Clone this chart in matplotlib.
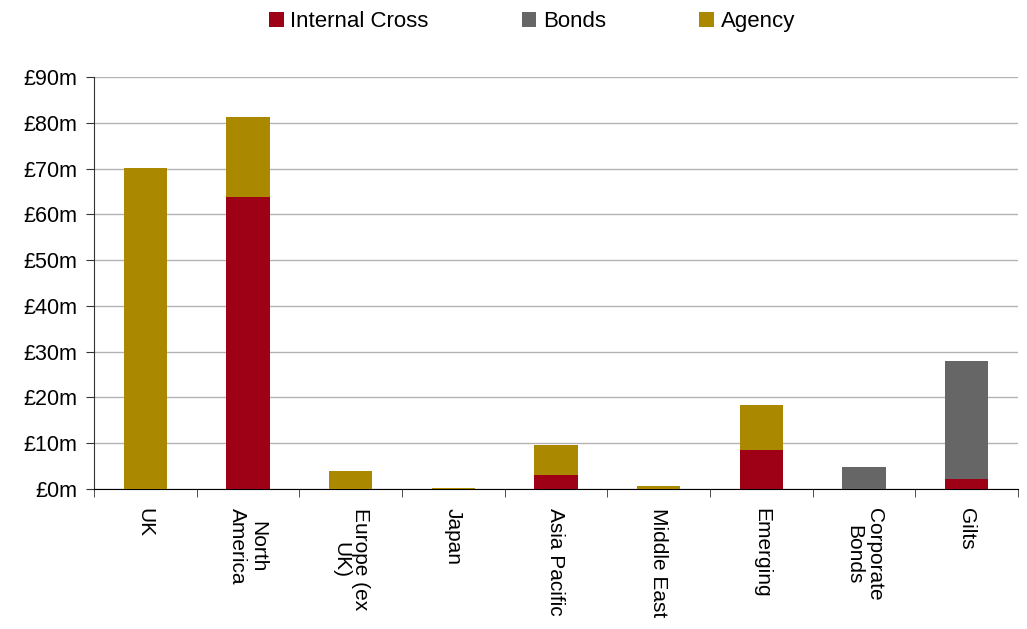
import numpy as np
import matplotlib.pyplot as plt
from matplotlib.ticker import FuncFormatter, FixedLocator

plt.rcParams['font.family'] = ['Liberation Sans', 'DejaVu Sans']

# Data (in £m)
categories = ['UK', 'North\nAmerica', 'Europe (ex\nUK)', 'Japan', 'Asia Pacific',
              'Middle East', 'Emerging', 'Corporate\nBonds', 'Gilts']
internal_cross = [0, 63.8, 0, 0, 3.1, 0, 8.5, 0, 2.2]
bonds = [0, 0, 0, 0, 0, 0, 0, 4.8, 25.8]
agency = [70.2, 17.5, 3.9, 0.25, 6.5, 0.7, 9.8, 0, 0]

red = '#9E0016'
grey = '#666666'
gold = '#AA8800'

fig = plt.figure(figsize=(10.27, 6.29), dpi=100)
ax = fig.add_axes([94 / 1027, 1 - 489 / 629, (1018 - 94) / 1027, (489 - 77) / 629])

x = np.arange(len(categories))
ic = np.array(internal_cross)
bd = np.array(bonds)
ag = np.array(agency)
w = 0.42
ax.bar(x, ic, w, color=red, label='Internal Cross', zorder=3)
ax.bar(x, bd, w, bottom=ic, color=grey, label='Bonds', zorder=3)
ax.bar(x, ag, w, bottom=ic + bd, color=gold, label='Agency', zorder=3)

ax.set_xlim(-0.5, len(categories) - 0.5)
ax.set_ylim(0, 90)
ax.set_yticks(np.arange(0, 91, 10))
ax.yaxis.set_major_formatter(FuncFormatter(lambda v, p: '£%dm' % v))
ax.grid(axis='y', color='#b3b3b3', linewidth=1, zorder=0)

ax.set_xticks(x)
ax.set_xticklabels(categories, rotation=270, ha='center', va='top',
                   multialignment='center', fontsize=15, linespacing=1.1)
ax.tick_params(axis='x', which='major', length=0, pad=14)
ax.xaxis.set_minor_locator(FixedLocator(np.arange(-0.5, len(categories), 1)))
ax.tick_params(axis='x', which='minor', length=6, color='#333333')
ax.tick_params(axis='y', length=6, labelsize=15.5, pad=6, color='#333333')

for s in ['top', 'right']:
    ax.spines[s].set_visible(False)
ax.spines['left'].set_color('#333333')
ax.spines['bottom'].set_color('black')

handles, labels = ax.get_legend_handles_labels()
fig.legend(handles, labels, loc='upper center', bbox_to_anchor=(0.518, 1.014),
           ncol=3, frameon=False, fontsize=16, handlelength=0.65,
           handleheight=0.65, handletextpad=0.3, columnspacing=4.2)

fig.savefig('out.png', dpi=100)
